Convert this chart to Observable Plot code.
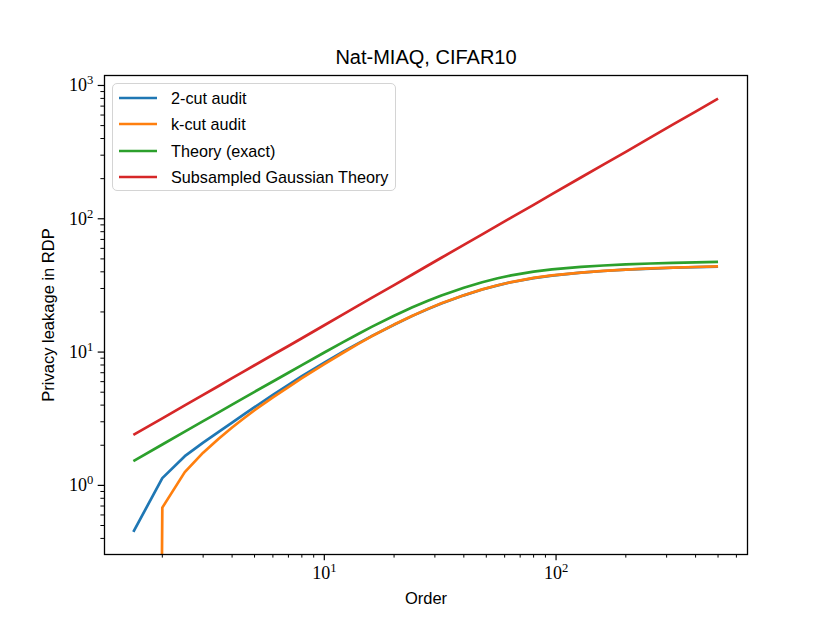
<!DOCTYPE html>
<html><head><meta charset="utf-8">
<script src="https://cdn.jsdelivr.net/npm/d3@7"></script>
<script src="https://cdn.jsdelivr.net/npm/@observablehq/plot@0.6"></script>
<style>
body{margin:0;background:#fff}
#wrap{position:relative;width:830px;height:623px;overflow:hidden}
#legend{position:absolute;left:112px;top:83px;width:284px;height:108px;box-sizing:border-box;border:1.2px solid #d4d4d4;border-radius:5px;background:rgba(255,255,255,0.8);font-family:"Liberation Sans",sans-serif;font-size:16.2px;color:#000}
.lrow{position:absolute;left:0;height:26px;line-height:26px;white-space:nowrap}
.lrow svg{position:absolute;left:6px;top:0}
.lrow span{position:absolute;left:58px;top:0}
</style>
</head><body><div id="wrap"></div>
<script>
const orders = [1.5, 2, 2.5, 3, 3.5, 4, 4.5, 5, 6, 7, 8, 10, 12, 14, 16, 20, 24, 28, 32, 40, 48, 56, 64, 80, 96, 128, 160, 200, 256, 320, 400, 500];
const twoCut = [0.448, 1.134, 1.656, 2.09, 2.52, 2.96, 3.41, 3.86, 4.77, 5.68, 6.6, 8.34, 10.02, 11.62, 13.17, 16.04, 18.69, 21.04, 23.14, 26.64, 29.46, 31.67, 33.42, 35.9, 37.51, 39.42, 40.59, 41.5, 42.3, 42.92, 43.38, 43.8];
// k-cut value at order 1.5 is non-positive (clipped to the bottom on a log axis)
const kCut = [1e-30, 0.681, 1.257, 1.76, 2.24, 2.72, 3.19, 3.66, 4.58, 5.47, 6.37, 8.12, 9.84, 11.51, 13.13, 16.08, 18.73, 21.09, 23.2, 26.7, 29.53, 31.74, 33.49, 35.98, 37.6, 39.51, 40.68, 41.59, 42.39, 43.01, 43.47, 43.89];
const theoryExact = [1.52, 2.025, 2.53, 3.03, 3.53, 4.03, 4.53, 5.03, 6.02, 7.0, 7.98, 9.93, 11.83, 13.67, 15.46, 18.74, 21.68, 24.3, 26.6, 30.41, 33.44, 35.78, 37.59, 40.11, 41.68, 43.51, 44.6, 45.45, 46.18, 46.7, 47.1, 47.45];
const subsampledGaussian = [2.39, 3.18, 3.98, 4.78, 5.57, 6.37, 7.17, 7.96, 9.55, 11.1, 12.7, 15.9, 19.1, 22.3, 25.5, 31.8, 38.2, 44.6, 51.0, 63.7, 76.4, 89.2, 102, 127, 153, 204, 255, 318, 408, 510, 637, 797];

const seriesNames = ["2-cut audit", "k-cut audit", "Theory (exact)", "Subsampled Gaussian Theory"];
const seriesColors = ["#1f77b4", "#ff7f0e", "#2ca02c", "#d62728"];
const seriesValues = [twoCut, kCut, theoryExact, subsampledGaussian];

const xMajor = [10, 100];
const xMinor = [2,3,4,5,6,7,8,9,20,30,40,50,60,70,80,90,200,300,400,500,600];
const yMajor = [1, 10, 100, 1000];
const yMinor = [0.4,0.5,0.6,0.7,0.8,0.9,2,3,4,5,6,7,8,9,20,30,40,50,60,70,80,90,200,300,400,500,600,700,800,900];

const titleText = "Nat-MIAQ, CIFAR10";
const xLabel = "Order";
const yLabel = "Privacy leakage in RDP";

const rows = [];
seriesNames.forEach((s, i) => orders.forEach((o, j) => rows.push({series: s, order: o, value: seriesValues[i][j]})));

const sans = "Liberation Sans, sans-serif";
const serif = "Liberation Serif, serif";
const supFmt = d => "10^" + Math.round(Math.log10(d));

const svg = Plot.plot({
  width: 830, height: 623,
  marginLeft: 104, marginRight: 83, marginTop: 75, marginBottom: 69,
  style: {background: "#fff", color: "#000", overflow: "visible"},
  x: {type: "log", domain: [1.126, 670], label: null},
  y: {type: "log", domain: [0.303, 1188], label: null},
  color: {domain: seriesNames, range: seriesColors},
  marks: [
    Plot.line(rows, {x: "order", y: "value", z: "series", stroke: "series", strokeWidth: 2.7, clip: true, strokeLinejoin: "round", strokeLinecap: "butt"}),
    Plot.frame({stroke: "#000", strokeWidth: 1.3}),
    Plot.axisX({ticks: xMajor, tickSize: 6.3, tickPadding: 5, tickFormat: supFmt, fontSize: 18, fontFamily: serif, strokeWidth: 1.2, label: null}),
    Plot.axisX({ticks: xMinor, tickSize: 3.6, tickFormat: () => "", strokeWidth: 1, label: null}),
    Plot.axisY({ticks: yMajor, tickSize: 6.3, tickPadding: 5, tickFormat: supFmt, fontSize: 18, fontFamily: serif, strokeWidth: 1.2, label: null}),
    Plot.axisY({ticks: yMinor, tickSize: 3.6, tickFormat: () => "", strokeWidth: 1, label: null}),
    Plot.text([titleText], {frameAnchor: "top", dy: -26, fontSize: 20, fontFamily: sans, fill: "#000"}),
    Plot.text([xLabel], {frameAnchor: "bottom", dy: 49, fontSize: 16.5, fontFamily: sans, fill: "#000"}),
    Plot.text([yLabel], {frameAnchor: "left", textAnchor: "middle", dx: -56, rotate: -90, fontSize: 16.5, fontFamily: sans, fill: "#000"})
  ]
});

// superscript exponents in tick labels
d3.select(svg).selectAll("text").each(function() {
  const t = this.textContent;
  const m = /^10\^(-?\d+)$/.exec(t);
  if (m) {
    const sel = d3.select(this);
    sel.text(null);
    sel.append("tspan").text("10");
    sel.append("tspan").attr("dy", "-0.55em").attr("font-size", "0.7em").text(m[1]);
  }
});

const wrap = document.getElementById("wrap");
wrap.appendChild(svg);

const legend = document.createElement("div");
legend.id = "legend";
seriesNames.forEach((name, i) => {
  const row = document.createElement("div");
  row.className = "lrow";
  row.style.top = (1.3 + i * 26.1) + "px";
  row.style.width = "100%";
  row.innerHTML = `<svg width="40" height="26"><line x1="0" x2="38" y1="13" y2="13" stroke="${seriesColors[i]}" stroke-width="2.7"/></svg><span>${name}</span>`;
  legend.appendChild(row);
});
wrap.appendChild(legend);
</script>
</body></html>
